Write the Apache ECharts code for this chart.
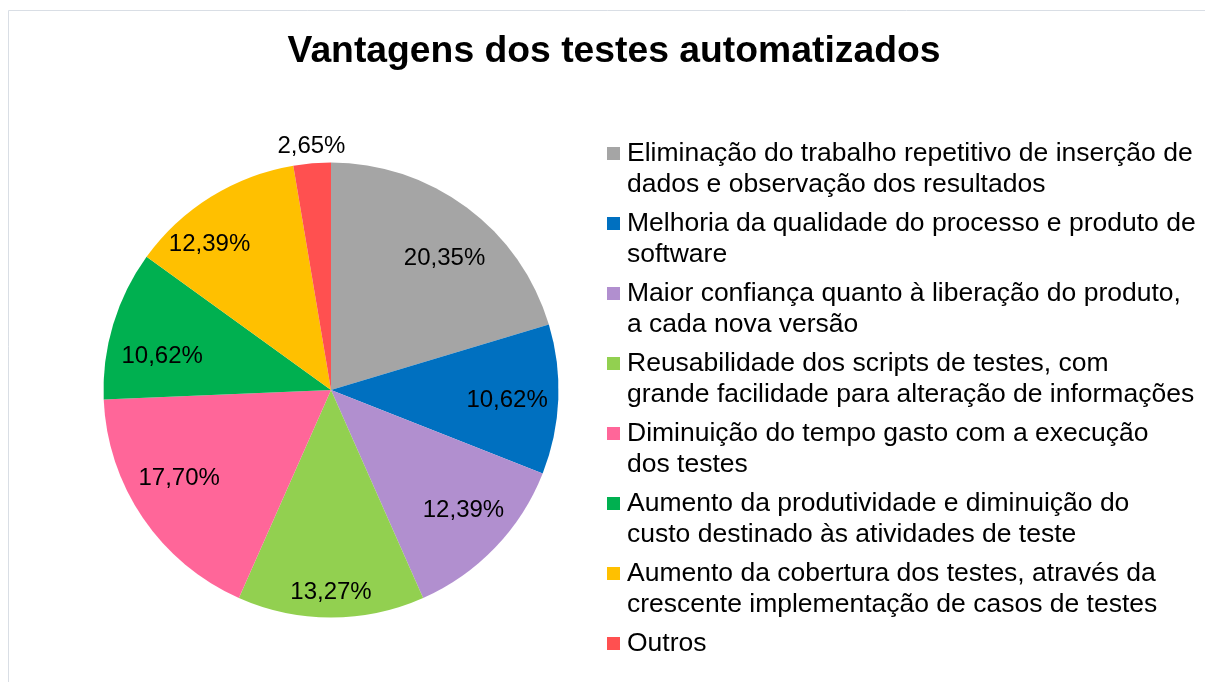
<!DOCTYPE html>
<html>
<head>
<meta charset="utf-8">
<script src="https://cdn.jsdelivr.net/npm/echarts@6/dist/echarts.min.js"></script>
<style>
    html, body { margin: 0; padding: 0; background: #fff; }
    #chart { width: 1205px; height: 682px; }
</style>
</head>
<body>
<div id="chart"></div>
<script>
// categorias (com a quebra de linha da legenda) e percentuais
const categorias = [
    "Eliminação do trabalho repetitivo de inserção de\ndados e observação dos resultados",
    "Melhoria da qualidade do processo e produto de\nsoftware",
    "Maior confiança quanto à liberação do produto,\na cada nova versão",
    "Reusabilidade dos scripts de testes, com\ngrande facilidade para alteração de informações",
    "Diminuição do tempo gasto com a execução\ndos testes",
    "Aumento da produtividade e diminuição do\ncusto destinado às atividades de teste",
    "Aumento da cobertura dos testes, através da\ncrescente implementação de casos de testes",
    "Outros"
];
const percentuais = [20.35, 10.62, 12.39, 13.27, 17.70, 10.62, 12.39, 2.65];
const cores = ["#A5A5A5", "#0070C0", "#B18FCF", "#92D050", "#FF6699", "#00B050", "#FFC000", "#FF5050"];
// ajuste fino dos rótulos (o Excel usa "melhor ajuste")
const ajusteRotulo = [[9, 9], [1, 3], [6, -1], [0, 27], [-7, -10], [-1, 17], [-29, 3], [-5, -69]];

const fonte = "'Liberation Sans', Arial, sans-serif";
const dados = categorias.map(function (nome, i) {
    return { name: nome, value: percentuais[i], itemStyle: { color: cores[i] } };
});

const chart = echarts.init(document.getElementById("chart"));
chart.setOption({
    animation: false,
    color: cores,
    title: {
        text: "Vantagens dos testes automatizados",
        left: 609,
        top: 28,
        textAlign: "center",
        textStyle: {
            fontFamily: fonte,
            fontSize: 37.3,
            fontWeight: "bold",
            color: "#000"
        }
    },
    graphic: [
        {
            type: "rect",
            shape: { x: 8.5, y: 10.5, width: 1300, height: 800 },
            style: { fill: null, stroke: "#D9DEE5", lineWidth: 1 },
            silent: true
        }
    ],
    legend: {
        orient: "vertical",
        left: 607,
        top: 107,
        height: 700,
        padding: 0,
        itemWidth: 13,
        itemHeight: 13,
        itemGap: -23,
        icon: "rect",
        selectedMode: false,
        formatter: function (nome) {
            // linha vazia em cima: a 1ª linha fica ao lado do ícone
            return nome.indexOf("\n") < 0 ? "\n" + nome + "\n " : "\n" + nome;
        },
        textStyle: {
            fontFamily: fonte,
            fontSize: 26.5,
            lineHeight: 31,
            color: "#000",
            padding: [0, 0, 0, 2]
        }
    },
    series: [
        {
            type: "pie",
            center: [331, 390],
            radius: [0, 227.5],
            startAngle: 90,
            clockwise: true,
            data: dados,
            label: { show: false },
            labelLine: { show: false },
            emphasis: { disabled: true }
        },
        {
            // só para os rótulos: mesmo setor, mais afastados do centro
            type: "pie",
            center: [331, 390],
            radius: [117, 227.5],
            startAngle: 90,
            clockwise: true,
            silent: true,
            data: dados.map(function (d) {
                return { name: d.name, value: d.value, itemStyle: { color: "rgba(0,0,0,0)" } };
            }),
            label: {
                show: true,
                position: "inside",
                fontFamily: fonte,
                fontSize: 24,
                color: "#000",
                formatter: function (p) {
                    return p.value.toFixed(2).replace(".", ",") + "%";
                }
            },
            labelLayout: function (p) {
                const a = ajusteRotulo[p.dataIndex];
                return { dx: a[0], dy: a[1] };
            },
            labelLine: { show: false },
            emphasis: { disabled: true }
        }
    ]
});
</script>
</body>
</html>
